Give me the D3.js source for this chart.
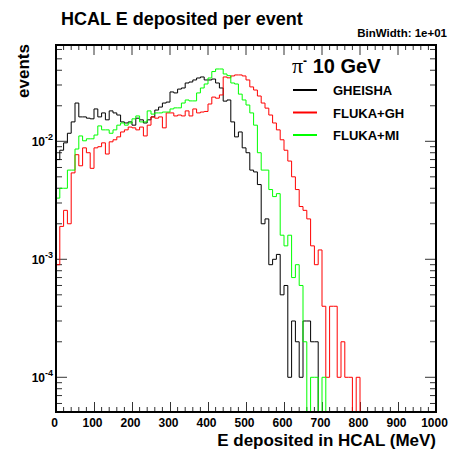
<!DOCTYPE html>
<html>
<head>
<meta charset="utf-8">
<script src="https://cdn.jsdelivr.net/npm/d3@7"></script>
<style>
body { margin: 0; background: #fff; }
text { font-family: "Liberation Sans", Arial, sans-serif; font-weight: bold; fill: #000; }
</style>
</head>
<body>
<div id="chart"></div>
<script>
// histogram definition: 100 bins of 10 MeV from 0 to 1000
var nBins = 100, binWidth = 10;

// fraction of events per bin
var gheisha = [
0.0070,0.0084,0.0097,0.0117,0.0146,0.0211,0.0161,0.0161,0.0157,0.0155,
0.0188,0.0161,0.0174,0.0152,0.0181,0.0174,0.0167,0.0146,0.0143,0.0146,
0.0137,0.0157,0.0152,0.0143,0.0152,0.0161,0.0184,0.0195,0.0211,0.0215,
0.0262,0.0257,0.0277,0.0283,0.0312,0.0318,0.0331,0.0344,0.0351,0.0331,
0.0331,0.0337,0.0312,0.0283,0.0219,0.0224,0.0146,0.0109,0.0120,0.0088,
0.0080,0.0057,0.0055,0.0043,0.0020,0.0022,0.0009,0.0010,0.0011,0.0005,
0.0006,0.0001,0.0003,0.0002,0.0001,0.0003,0.0003,0.0002,0.0002,0,
0,0,0,0,0,0,0,0,0,0,
0,0,0,0,0,0,0,0,0,0,
0,0,0,0,0,0,0,0,0,0];

var flukaGH = [
0.0009,0.0019,0.0026,0.0020,0.0054,0.0077,0.0062,0.0088,0.0080,0.0059,
0.0088,0.0090,0.0097,0.0078,0.0099,0.0103,0.0109,0.0120,0.0125,0.0132,
0.0130,0.0125,0.0132,0.0111,0.0137,0.0161,0.0157,0.0161,0.0130,0.0174,
0.0174,0.0164,0.0167,0.0164,0.0181,0.0164,0.0188,0.0174,0.0177,0.0179,
0.0207,0.0237,0.0232,0.0247,0.0351,0.0345,0.0358,0.0365,0.0365,0.0358,
0.0331,0.0289,0.0272,0.0242,0.0211,0.0191,0.0167,0.0143,0.0125,0.0103,
0.0084,0.0068,0.0050,0.0039,0.0028,0.0026,0.0022,0.0013,0.0009,0.0012,
0.0004,0.0001,0.0004,0.0004,0.0001,0.0002,0.0001,0.0001,0,0.0001,
0,0,0,0,0,0,0,0,0,0,
0,0,0,0,0,0,0,0,0,0];

var flukaMI = [
0.0033,0.0040,0.0040,0.0057,0.0057,0.0086,0.0111,0.0101,0.0105,0.0105,
0.0113,0.0135,0.0125,0.0125,0.0117,0.0125,0.0137,0.0143,0.0137,0.0143,
0.0155,0.0164,0.0146,0.0146,0.0181,0.0170,0.0174,0.0174,0.0177,0.0177,
0.0188,0.0192,0.0192,0.0211,0.0224,0.0220,0.0220,0.0257,0.0283,0.0306,
0.0344,0.0390,0.0410,0.0410,0.0372,0.0360,0.0312,0.0306,0.0251,0.0224,
0.0203,0.0174,0.0137,0.0080,0.0057,0.0057,0.0039,0.0034,0.0036,0.0016,
0.0013,0.0016,0.0007,0.0009,0.0006,0.0002,0,0.0001,0.0001,0,
0.0001,0,0,0,0,0,0,0,0,0,
0,0,0,0,0,0,0,0,0,0,
0,0,0,0,0,0,0,0,0,0];

var seriesNames = ["GHEISHA", "FLUKA+GH", "FLUKA+MI"];
var seriesColors = ["#000000", "#ff0000", "#00ff00"];
var xTickValues = [0,100,200,300,400,500,600,700,800,900,1000];
var yTickPowers = [-4,-3,-2];

var W = 452, H = 453;
var margin = {top: 45, right: 16, bottom: 41, left: 56},
    width = W - margin.left - margin.right,
    height = H - margin.top - margin.bottom;

var svg = d3.select("#chart")
.append("svg")
.attr("width", W)
.attr("height", H);

var g = svg.append("g")
.attr("transform", "translate(" + margin.left + "," + margin.top + ")");

var x = d3.scaleLinear().domain([0, nBins * binWidth]).range([0, width]);
var y = d3.scaleLog().domain([5.08e-5, 0.06548]).range([height, 0]);

// minor ticks
var xMinor = d3.range(0, 1001, 20).filter(function(d) { return d % 100 != 0; });
var yMinor = [];
[-5,-4,-3,-2].forEach(function(p) {
    for (var m = 2; m <= 9; m++) {
        var v = m * Math.pow(10, p);
        if (v > y.domain()[0] && v < y.domain()[1]) yMinor.push(v);
    }
});

var tickColor = "#333";

// x axis bottom with labels
var xAxis = g.append("g")
.attr("transform", "translate(0," + height + ")")
.call(d3.axisBottom(x).tickValues(xTickValues).tickSize(-10).tickPadding(6)
      .tickFormat(d3.format("d")));
xAxis.select(".domain").remove();
xAxis.selectAll("line").attr("stroke", tickColor);
xAxis.selectAll("text").attr("font-size", "12px").attr("dx", "-2")
.attr("font-family", "Liberation Sans, Arial, sans-serif").attr("font-weight", "bold");

// x minor bottom + top ticks
function hTicks(vals, len, yy, dir) {
    g.append("g").selectAll("line").data(vals).enter().append("line")
    .attr("x1", function(d) { return x(d); }).attr("x2", function(d) { return x(d); })
    .attr("y1", yy).attr("y2", yy + dir * len)
    .attr("stroke", tickColor);
}
hTicks(xMinor, 5, height, -1);
hTicks(xTickValues, 10, 0, 1);
hTicks(xMinor, 5, 0, 1);

// y ticks left and right
function vTicks(vals, len, xx, dir) {
    g.append("g").selectAll("line").data(vals).enter().append("line")
    .attr("y1", function(d) { return y(d); }).attr("y2", function(d) { return y(d); })
    .attr("x1", xx).attr("x2", xx + dir * len)
    .attr("stroke", tickColor);
}
var yMajor = yTickPowers.map(function(p) { return Math.pow(10, p); });
vTicks(yMajor, 11, 0, 1);
vTicks(yMinor, 6, 0, 1);
vTicks(yMajor, 11, width, -1);
vTicks(yMinor, 6, width, -1);

// y labels 10^p
var yl = g.append("g").selectAll("text").data(yTickPowers).enter().append("text")
.attr("x", -3)
.attr("y", function(d) { return y(Math.pow(10, d)) + 5; })
.attr("text-anchor", "end")
.attr("font-size", "12px");
yl.append("tspan").text("10");
yl.append("tspan").attr("dy", "-6").attr("font-size", "9px").text(function(d) { return d; });

// histograms
function histPoints(vals) {
    var pts = [];
    vals.forEach(function(v, i) {
        var yy = v > 0 ? y(v) : height;
        pts.push([x(i * binWidth), yy]);
        pts.push([x((i + 1) * binWidth), yy]);
    });
    return pts;
}
var allSeries = [gheisha, flukaGH, flukaMI];
allSeries.forEach(function(vals, k) {
    g.append("path")
    .attr("d", d3.line()(histPoints(vals)))
    .attr("fill", "none")
    .attr("stroke", seriesColors[k])
    .attr("stroke-width", 1);
});

// frame
g.append("rect")
.attr("width", width).attr("height", height)
.attr("fill", "none").attr("stroke", "#000").attr("stroke-width", 2);

// titles
svg.append("text").attr("x", 61).attr("y", 25).attr("font-size", "18px")
.text("HCAL E deposited per event");
svg.append("text").attr("x", 447).attr("y", 37).attr("text-anchor", "end")
.attr("font-size", "11.5px").text("BinWidth: 1e+01");
svg.append("text").attr("x", 436).attr("y", 446).attr("text-anchor", "end")
.attr("font-size", "17px").text("E deposited in HCAL (MeV)");
svg.append("text").attr("transform", "translate(29,44) rotate(-90)")
.attr("text-anchor", "end").attr("font-size", "17px").text("events");

// legend
var head = svg.append("text").attr("x", 292).attr("y", 73).attr("font-size", "20px");
head.append("tspan").attr("font-family", "Liberation Serif, serif").attr("font-weight", "normal")
.attr("font-size", "22px").text("\u03c0");
head.append("tspan").attr("dy", "-8").attr("font-size", "12px").text("-");
head.append("tspan").attr("dy", "8").text(" 10 GeV");

var leg = svg.append("g").selectAll("g").data(seriesNames).enter().append("g")
.attr("transform", function(d, i) { return "translate(293," + (90 + i * 22.5) + ")"; });
leg.append("line").attr("x1", 0).attr("x2", 24)
.attr("stroke", function(d, i) { return seriesColors[i]; }).attr("stroke-width", 2);
leg.append("text").attr("x", 40).attr("y", 5).attr("font-size", "13px")
.text(function(d) { return d; });
</script>
</body>
</html>
